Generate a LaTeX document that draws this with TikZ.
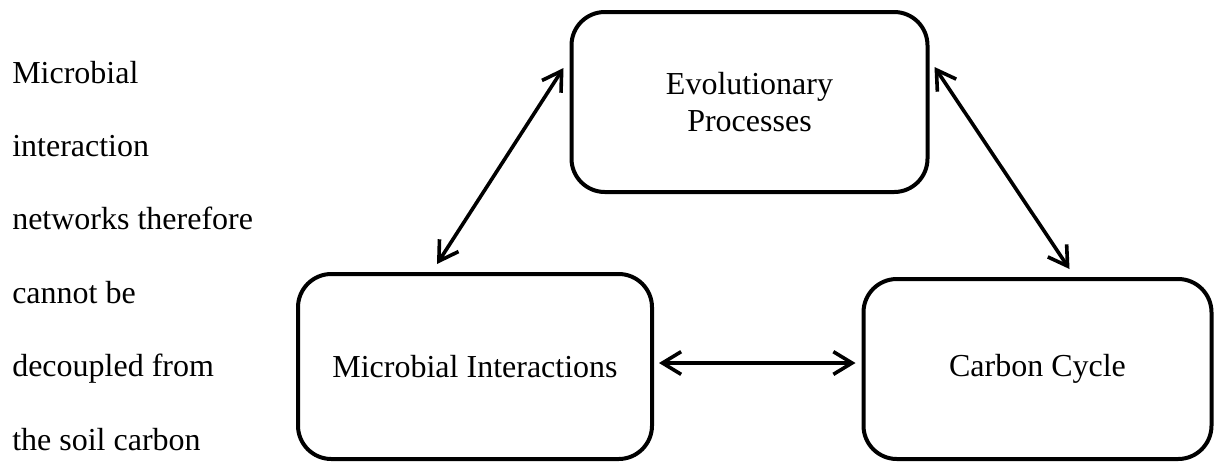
\documentclass[tikz,border=0pt]{standalone}
\usepackage{fontspec}
\setmainfont{Liberation Serif}
\usetikzlibrary{arrows.meta,calc}

\tikzset{
  box/.style={draw, line width=3pt, rounded corners=25pt, inner sep=0pt, align=center,
    font=\fontsize{24}{27.75}\selectfont},
  link/.style={line width=2.7pt, {Straight Barb[length=14pt,width=17pt]}-{Straight Barb[length=14pt,width=17pt]}},
  sidetext/.style={anchor=base west, inner sep=0pt, font=\fontsize{24}{28}\selectfont}
}

\begin{document}
\begin{tikzpicture}[x=0.75pt,y=0.75pt,yscale=-1,xscale=1]
\useasboundingbox (0,0) rectangle (1214,462);

% Side text
\foreach \t [count=\i] in {Microbial, interaction, networks therefore, cannot be, decoupled from, the soil carbon}
  \node[sidetext] (side\i) at (12, {83+73.4*(\i-1)}) {\t};

% Boxes
\node[box, minimum width=267pt, minimum height=135pt] (ep) at (749.5,102) {Evolutionary\\Processes};
\node[box, minimum width=265.5pt, minimum height=138.75pt] (mi) at (475,366.5) {Microbial Interactions};
\node[box, minimum width=261pt, minimum height=135pt] (cc) at (1037.5,369) {Carbon Cycle};

% Arrows
\draw[link] ($(mi.north)+(-38,-8)$) -- ($(ep.west)+(-6,-34)$);
\draw[link] ($(ep.east)+(5,-35)$) -- ($(cc.north)+(32,-8)$);
\draw[link] ($(mi.east)+(5,-3.5)$) -- ($(cc.west)+(-6,-6)$);

\end{tikzpicture}
\end{document}
